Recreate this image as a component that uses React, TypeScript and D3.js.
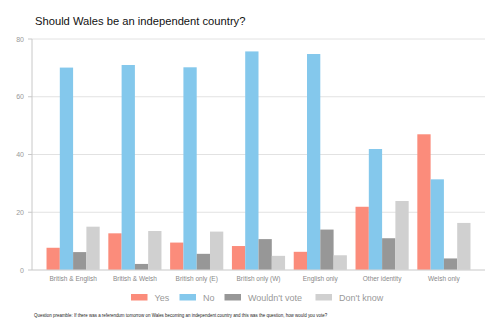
import React from "react";
import * as d3 from "d3";

const categories = ["British & English", "British & Welsh", "British only (E)", "British only (W)", "English only", "Other identity", "Welsh only"];
const seriesNames = ["Yes", "No", "Wouldn't vote", "Don't know"];
const yesValues = [7.7, 12.7, 9.5, 8.3, 6.3, 21.9, 47.0];
const noValues = [70.1, 71.0, 70.2, 75.7, 74.8, 41.9, 31.4];
const wouldntValues = [6.2, 2.1, 5.6, 10.7, 14.0, 11.0, 4.0];
const dontKnowValues = [15.0, 13.5, 13.3, 4.9, 5.1, 23.9, 16.3];
const yTicks = [0, 20, 40, 60, 80];
const colors = ["#fb8c7b", "#84c8ec", "#979797", "#d0d0d0"];

const W = 497, H = 331;
const left = 32, right = 485, top = 39, bottom = 270;

export default function App() {
  const series = [yesValues, noValues, wouldntValues, dontKnowValues];
  const x = d3.scaleBand<string>().domain(categories).range([left, right]).paddingInner(0.14).paddingOuter(0.235);
  const xs = d3.scaleBand<string>().domain(seriesNames).range([0, x.bandwidth()]);
  const y = d3.scaleLinear().domain([0, 80]).range([bottom, top]);
  const font = "Helvetica, Arial, 'Liberation Sans', sans-serif";
  const legendX = [131, 179.5, 224.5, 315.5];
  return (
    <svg width={W} height={H} style={{ position: "absolute", left: 0, top: 0, background: "#fff" }} fontFamily={font}>
      <text x={35} y={25} fontSize={11.2} fill="#111">Should Wales be an independent country?</text>
      {yTicks.map((t) => (
        <g key={t}>
          <line x1={left} x2={right} y1={y(t)} y2={y(t)} stroke="#e2e2e2" strokeWidth={1} />
          <line x1={left - 4} x2={left} y1={y(t)} y2={y(t)} stroke="#c8c8c8" strokeWidth={1} />
          <text x={24} y={y(t) + 2.5} fontSize={7} fill="#999" textAnchor="end">{t}</text>
        </g>
      ))}
      {categories.map((c, i) => (
        <g key={c}>
          {series.map((vals, s) => (
            <rect key={s} x={(x(c) as number) + (xs(seriesNames[s]) as number)} y={y(vals[i])}
              width={xs.bandwidth()} height={y(0) - y(vals[i])} fill={colors[s]} />
          ))}
          <text x={(x(c) as number) + x.bandwidth() / 2} y={281} fontSize={6.5} fill="#888" textAnchor="middle">{c}</text>
        </g>
      ))}
      <line x1={left} x2={right} y1={bottom} y2={bottom} stroke="#d6d6d6" strokeWidth={1} />
      <line x1={left} x2={left} y1={top} y2={bottom} stroke="#c8c8c8" strokeWidth={1} />
      {seriesNames.map((n, s) => (
        <g key={n}>
          <rect x={legendX[s]} y={294} width={16.5} height={6.5} fill={colors[s]} />
          <text x={legendX[s] + 23.5} y={300.5} fontSize={9} fill="#999">{n}</text>
        </g>
      ))}
      <text x={34} y={316.5} fontSize={4.45} fill="#222">Question preamble: If there was a referendum tomorrow on Wales becoming an independent country and this was the question, how would you vote?</text>
    </svg>
  );
}
